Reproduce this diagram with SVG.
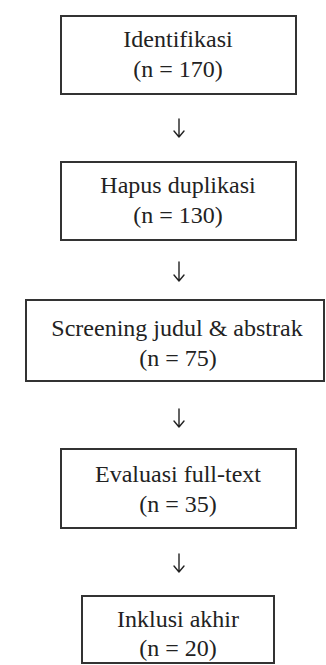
<svg xmlns="http://www.w3.org/2000/svg" width="326" height="665" viewBox="0 0 326 665">
<style>
.box{fill:#fff;stroke:#333;stroke-width:2}
.t{font-family:"Liberation Serif",serif;font-size:24px;fill:#222;text-anchor:middle}
.arr{fill:none;stroke:#222;stroke-width:1.4;stroke-linecap:round;stroke-linejoin:round}
</style>
<rect width="326" height="665" fill="#fff"/>
<g id="connectors">
<path class="arr" d="M179 119V137M174 131L179 137L184 131"/>
<path class="arr" d="M179 262V281M174 275L179 281L184 275"/>
<path class="arr" d="M179 409V427M174 421L179 427L184 421"/>
<path class="arr" d="M179 554V572M174 566L179 572L184 566"/>
</g>
<g id="n1"><rect class="box" x="61" y="16" width="235" height="78"/>
<text class="t" x="178" y="47">Identifikasi</text><text class="t" x="178" y="77">(n = 170)</text></g>
<g id="n2"><rect class="box" x="61" y="162" width="235" height="78"/>
<text class="t" x="178" y="193">Hapus duplikasi</text><text class="t" x="178" y="223">(n = 130)</text></g>
<g id="n3"><rect class="box" x="26" y="300" width="298" height="81"/>
<text class="t" x="177" y="336">Screening judul &amp; abstrak</text><text class="t" x="178" y="366">(n = 75)</text></g>
<g id="n4"><rect class="box" x="61" y="449" width="235" height="79"/>
<text class="t" x="178" y="482">Evaluasi full-text</text><text class="t" x="178" y="512">(n = 35)</text></g>
<g id="n5"><rect class="box" x="82" y="596" width="192" height="67"/>
<text class="t" x="178" y="627">Inklusi akhir</text><text class="t" x="178" y="656">(n = 20)</text></g>
</svg>
